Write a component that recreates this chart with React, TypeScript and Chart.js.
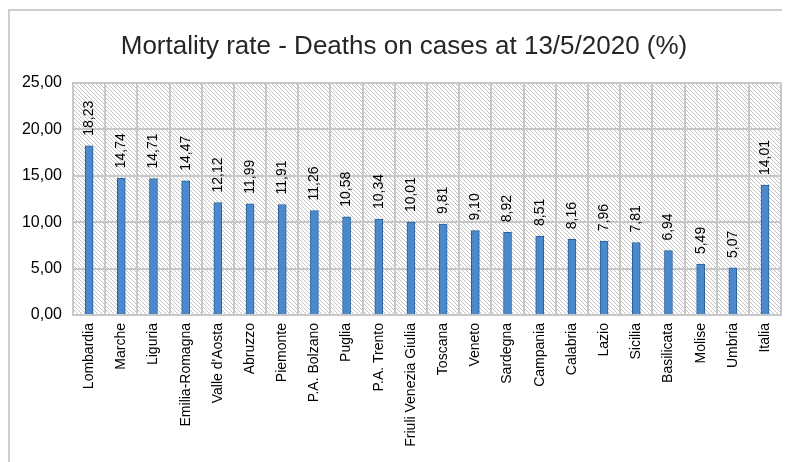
import React, { useEffect, useRef } from "react";
import { Chart, registerables } from "chart.js";

Chart.register(...registerables);

const regions = [
  "Lombardia", "Marche", "Liguria", "Emilia-Romagna", "Valle d'Aosta", "Abruzzo",
  "Piemonte", "P.A. Bolzano", "Puglia", "P.A. Trento", "Friuli Venezia Giulia",
  "Toscana", "Veneto", "Sardegna", "Campania", "Calabria", "Lazio", "Sicilia",
  "Basilicata", "Molise", "Umbria", "Italia",
];
const mortality = [
  18.23, 14.74, 14.71, 14.47, 12.12, 11.99, 11.91, 11.26, 10.58, 10.34, 10.01,
  9.81, 9.1, 8.92, 8.51, 8.16, 7.96, 7.81, 6.94, 5.49, 5.07, 14.01,
];
const titleText = "Mortality rate - Deaths on cases at 13/5/2020 (%)";

const FONT = "'Liberation Sans', 'DejaVu Sans', sans-serif";
const fmt = (v: number) => v.toFixed(2).replace(".", ",");

function makePattern(): CanvasPattern | string {
  const c = document.createElement("canvas");
  c.width = 4;
  c.height = 4;
  const g = c.getContext("2d");
  if (!g) return "#eee";
  g.fillStyle = "#ffffff";
  g.fillRect(0, 0, 4, 4);
  g.strokeStyle = "#c4c4c4";
  g.lineWidth = 1;
  g.beginPath();
  g.moveTo(-1, -1);
  g.lineTo(5, 5);
  g.stroke();
  const p = g.createPattern(c, "repeat");
  return p || "#eee";
}

export default function App() {
  const ref = useRef<HTMLCanvasElement | null>(null);
  useEffect(() => {
    if (!ref.current) return;
    const pattern = makePattern();
    const bgPlugin = {
      id: "bgHatch",
      beforeDraw(chart: any) {
        const { ctx, chartArea } = chart;
        ctx.save();
        ctx.fillStyle = "#ffffff";
        ctx.fillRect(0, 0, chart.width, chart.height);
        ctx.fillStyle = pattern;
        ctx.fillRect(chartArea.left, chartArea.top, chartArea.right - chartArea.left, chartArea.bottom - chartArea.top);
        // outer frame
        ctx.strokeStyle = "#cfcfcf";
        ctx.lineWidth = 2;
        ctx.beginPath();
        ctx.moveTo(1, chart.height);
        ctx.lineTo(1, 2);
        ctx.lineTo(chart.width, 2);
        ctx.stroke();
        // title
        ctx.fillStyle = "#262626";
        ctx.font = `26px ${FONT}`;
        ctx.textAlign = "center";
        ctx.textBaseline = "alphabetic";
        ctx.fillText(titleText, 396, 46);
        ctx.restore();
      },
    };
    const labelPlugin = {
      id: "valLabels",
      afterDatasetsDraw(chart: any) {
        const { ctx } = chart;
        const meta = chart.getDatasetMeta(0);
        ctx.save();
        ctx.fillStyle = "#000000";
        ctx.font = `14px ${FONT}`;
        ctx.textAlign = "left";
        ctx.textBaseline = "middle";
        meta.data.forEach((bar: any, i: number) => {
          ctx.save();
          ctx.translate(bar.x, bar.y - 10);
          ctx.rotate(-Math.PI / 2);
          ctx.fillText(fmt(mortality[i]), 0, 0);
          ctx.restore();
        });
        ctx.restore();
      },
    };
    const chart = new Chart(ref.current, {
      type: "bar",
      data: {
        labels: regions,
        datasets: [
          {
            data: mortality,
            backgroundColor: "#4a89cc",
            borderColor: "#2c5f9a",
            borderWidth: 1,
            barThickness: 8,
          },
        ],
      },
      options: {
        animation: false,
        responsive: false,
        maintainAspectRatio: false,
        layout: { padding: { left: 0, right: 8, top: 75, bottom: 0 } },
        plugins: {
          legend: { display: false },
          tooltip: { enabled: false },
          title: { display: false },
        },
        scales: {
          x: {
            grid: { color: "#c8c8c8", lineWidth: 2, drawTicks: false, offset: true },
            border: { color: "#c8c8c8", width: 2 },
            ticks: {
              color: "#000000",
              font: { family: FONT, size: 14 },
              maxRotation: 90,
              minRotation: 90,
              autoSkip: false,
              padding: 8,
            },
            afterFit(scale: any) {
              scale.height = 147;
            },
          },
          y: {
            min: 0,
            max: 25,
            grid: { color: "#c8c8c8", lineWidth: 2, drawTicks: false },
            border: { color: "#c8c8c8", width: 2 },
            ticks: {
              stepSize: 5,
              color: "#000000",
              font: { family: FONT, size: 16 },
              padding: 11,
              callback: (v: any) => fmt(Number(v)),
            },
            afterFit(scale: any) {
              scale.width = 65;
            },
          },
        },
      },
      plugins: [bgPlugin, labelPlugin],
    });
    return () => chart.destroy();
  }, []);
  return (
    <div style={{ width: 782, height: 454 }}>
      <canvas ref={ref} width={782} height={454} style={{ display: "block" }} />
    </div>
  );
}
